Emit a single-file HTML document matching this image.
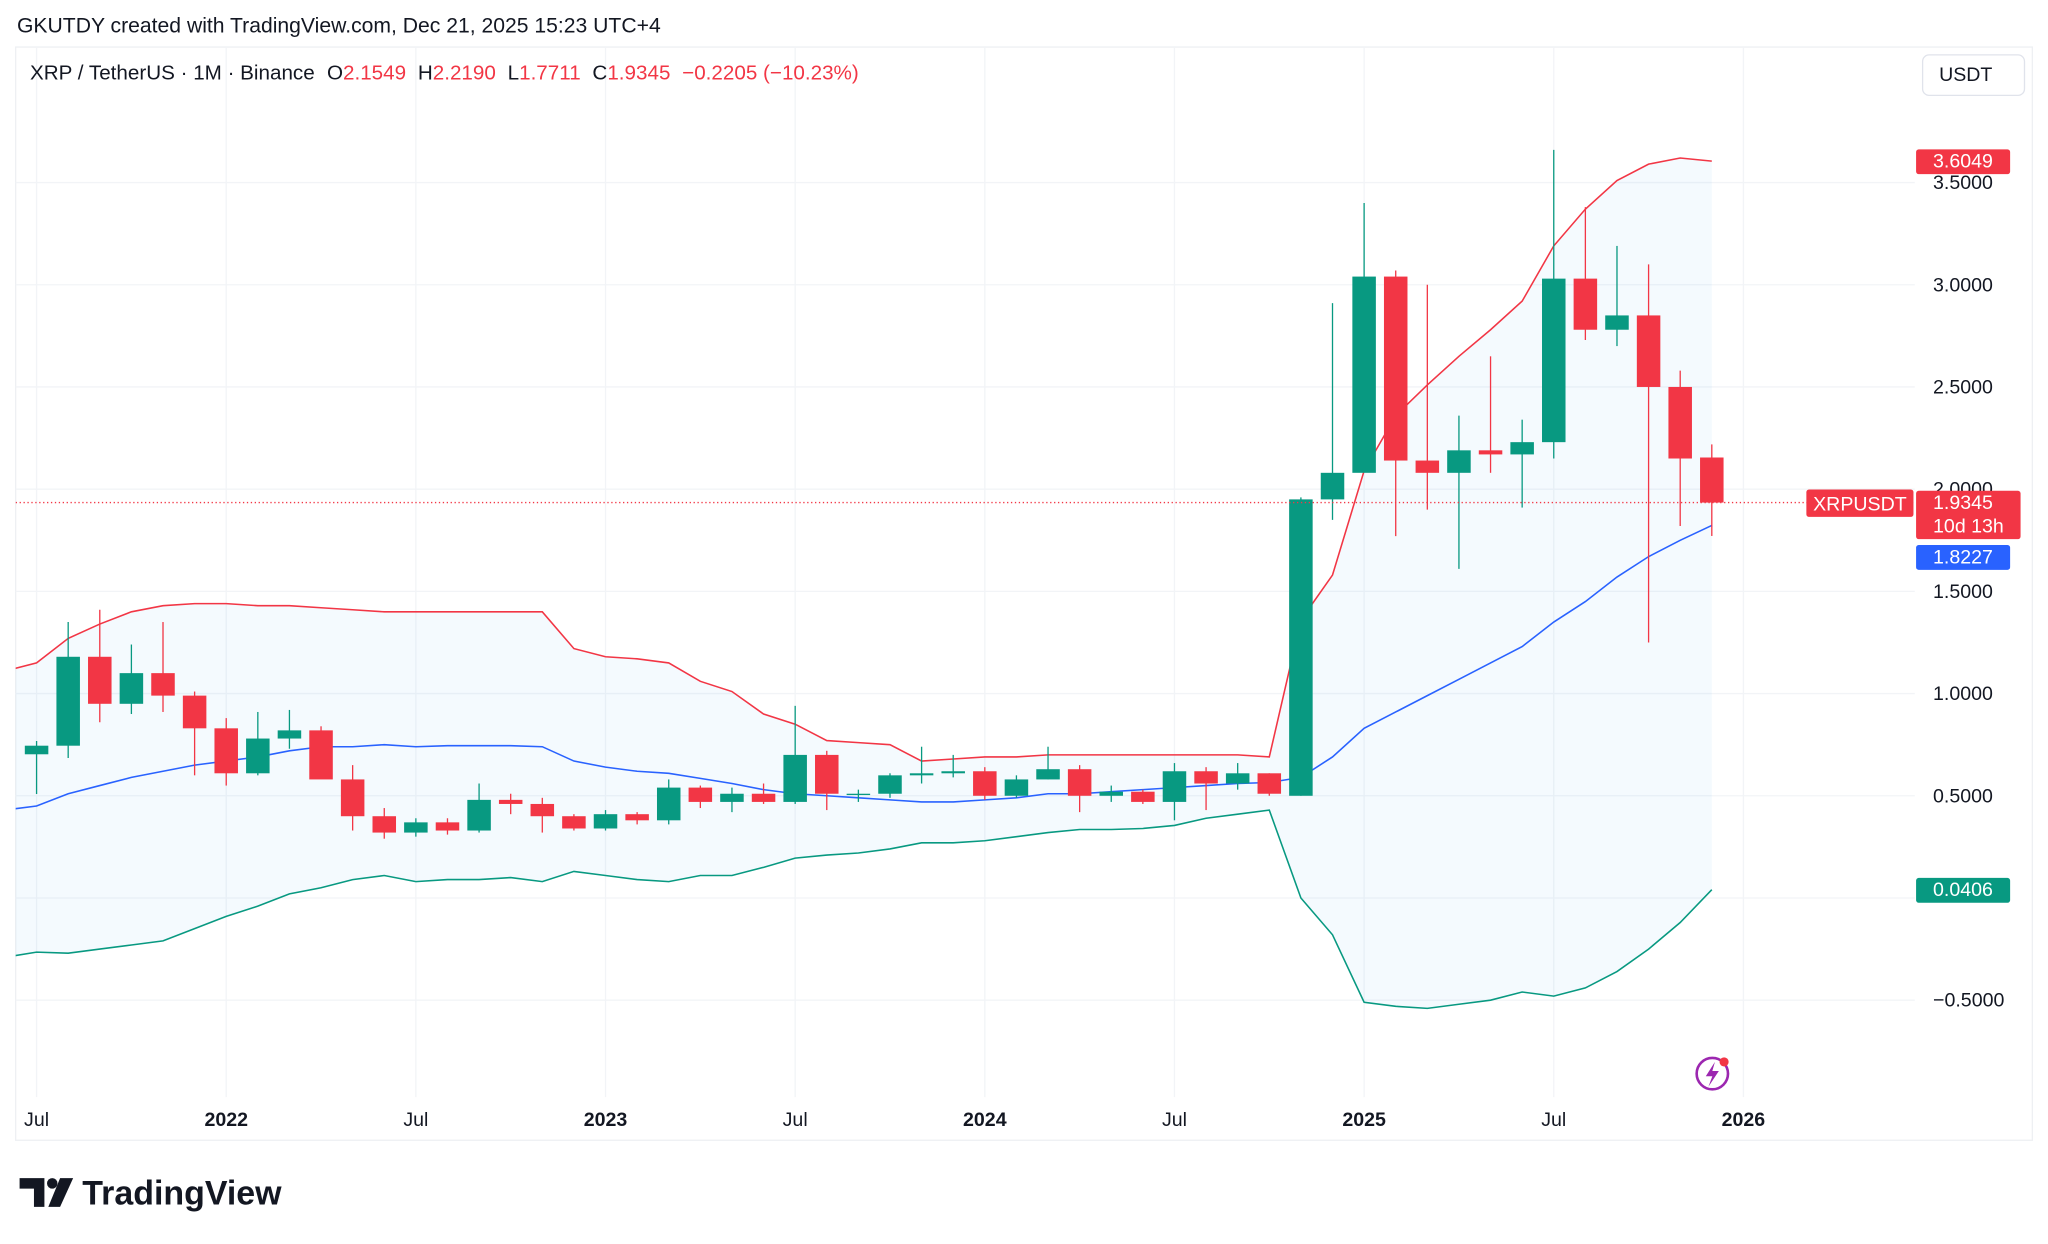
<!DOCTYPE html>
<html><head><meta charset="utf-8"><style>
html,body{margin:0;padding:0;background:#fff;}
svg{display:block;font-family:"Liberation Sans",sans-serif;}
</style></head><body>
<svg id="chart" width="2048" height="1244" viewBox="0 0 1568 952.4" xmlns="http://www.w3.org/2000/svg">
<text x="13" y="25" font-size="16.2" fill="#131722">GKUTDY created with TradingView.com, Dec 21, 2025 15:23 UTC+4</text>
<rect x="12" y="36" width="1544" height="837" fill="#fff" stroke="#eef0f3"/>
<g id="grid"></g>
<g id="plot"></g>
<g id="axes"></g>
<text x="23" y="61" font-size="15.8" fill="#131722">XRP / TetherUS · 1M · Binance <tspan dx="5">O</tspan><tspan fill="#f23645">2.1549</tspan><tspan dx="9">H</tspan><tspan fill="#f23645">2.2190</tspan><tspan dx="9">L</tspan><tspan fill="#f23645">1.7711</tspan><tspan dx="9">C</tspan><tspan fill="#f23645">1.9345</tspan><tspan dx="9" fill="#f23645">−0.2205 (−10.23%)</tspan></text>
<g><rect x="1472" y="42" width="78" height="31" rx="5" fill="#fff" stroke="#e0e3eb"/><text x="1505" y="62" font-size="15" text-anchor="middle" fill="#131722">USDT</text></g>
<g><circle cx="1311" cy="822" r="12" fill="none" stroke="#9c27b0" stroke-width="2"/><path d="M1313 813 L1306 824 L1311 824 L1308 832 L1316 820 L1311 820 Z" fill="#9c27b0"/><circle cx="1320" cy="813" r="3.5" fill="#f23645"/></g>
<g><path d="M15 902 H34 V924 H26 V910 H15 Z" fill="#131722"/><circle cx="40" cy="906" r="4" fill="#131722"/><path d="M46 902 H56 L46 924 H37 Z" fill="#131722"/><text x="63" y="922" font-size="26" font-weight="bold" fill="#131722">TradingView</text></g>
</svg>
<script>
const months = ["Jun21","Jul21","Aug21","Sep21","Oct21","Nov21","Dec21","Jan22","Feb22","Mar22","Apr22","May22","Jun22","Jul22","Aug22","Sep22","Oct22","Nov22","Dec22","Jan23","Feb23","Mar23","Apr23","May23","Jun23","Jul23","Aug23","Sep23","Oct23","Nov23","Dec23","Jan24","Feb24","Mar24","Apr24","May24","Jun24","Jul24","Aug24","Sep24","Oct24","Nov24","Dec24","Jan25","Feb25","Mar25","Apr25","May25","Jun25","Jul25","Aug25","Sep25","Oct25","Nov25","Dec25"];
const opens  = [null,.703,.745,1.18,.95,1.10,.99,.83,.61,.78,.82,.58,.40,.32,.37,.33,.48,.46,.40,.34,.41,.38,.54,.47,.51,.47,.70,.51,.51,.60,.61,.62,.50,.58,.63,.50,.52,.47,.62,.56,.61,.50,1.95,2.08,3.04,2.14,2.08,2.19,2.17,2.23,3.03,2.78,2.85,2.50,2.1549];
const highs  = [null,.768,1.35,1.41,1.24,1.35,1.01,.88,.91,.92,.84,.65,.44,.39,.39,.56,.51,.49,.41,.43,.42,.58,.55,.54,.56,.94,.72,.53,.61,.74,.70,.64,.60,.74,.65,.55,.53,.66,.64,.66,.61,1.96,2.91,3.40,3.07,3.00,2.36,2.65,2.34,3.66,3.38,3.19,3.10,2.58,2.219];
const lows   = [null,.509,.685,.86,.90,.91,.60,.55,.60,.73,.59,.33,.29,.30,.31,.32,.41,.32,.33,.33,.36,.36,.44,.42,.46,.46,.43,.47,.49,.56,.59,.48,.49,.58,.42,.47,.46,.38,.43,.53,.50,.50,1.85,2.09,1.77,1.90,1.61,2.08,1.91,2.15,2.73,2.70,1.25,1.82,1.7711];
const closes = [null,.745,1.18,.95,1.10,.99,.83,.61,.78,.82,.58,.40,.32,.37,.33,.48,.46,.40,.34,.41,.38,.54,.47,.51,.47,.70,.51,.51,.60,.61,.62,.50,.58,.63,.50,.52,.47,.62,.56,.61,.51,1.95,2.08,3.04,2.14,2.08,2.19,2.17,2.23,3.03,2.78,2.85,2.50,2.15,1.9345];
const upperBand = [1.11,1.15,1.27,1.34,1.40,1.43,1.44,1.44,1.43,1.43,1.42,1.41,1.40,1.40,1.40,1.40,1.40,1.40,1.22,1.18,1.17,1.15,1.06,1.01,.90,.85,.77,.76,.75,.67,.68,.69,.69,.70,.70,.70,.70,.70,.70,.70,.69,1.36,1.58,2.09,2.36,2.51,2.65,2.78,2.92,3.19,3.37,3.51,3.59,3.62,3.6049];
const midBand = [.43,.45,.51,.55,.59,.62,.65,.67,.69,.72,.74,.74,.75,.74,.745,.745,.745,.74,.67,.64,.62,.61,.585,.56,.53,.51,.50,.49,.48,.47,.47,.48,.49,.51,.51,.52,.53,.54,.55,.56,.565,.59,.69,.83,.91,.99,1.07,1.15,1.23,1.35,1.45,1.57,1.67,1.75,1.8227];
const lowerBand = [-.29,-.265,-.27,-.25,-.23,-.21,-.15,-.09,-.04,.02,.05,.09,.11,.08,.09,.09,.10,.08,.13,.11,.09,.08,.11,.11,.15,.195,.21,.22,.24,.27,.27,.28,.30,.32,.335,.335,.34,.355,.39,.41,.43,0.0,-.18,-.51,-.53,-.54,-.52,-.50,-.46,-.48,-.44,-.36,-.25,-.12,.0406];
const priceTicks = [3.5,3.0,2.5,2.0,1.5,1.0,0.5,-0.5];
const timeTickIdx = [1,7,13,19,25,31,37,43,49,55];
const timeTickLabels = ["Jul","2022","Jul","2023","Jul","2024","Jul","2025","Jul","2026"];

const NS="http://www.w3.org/2000/svg";
const X0=12, X1=1466, Y0=36, Y1=840;
const x = i => 28 + (i-1)*24.2;
const y = p => 687.5 - p*156.5;
function mk(tag, attrs, parent){const e=document.createElementNS(NS,tag);for(const k in attrs)e.setAttribute(k,attrs[k]);parent.appendChild(e);return e;}
const grid=document.getElementById('grid'), plot=document.getElementById('plot'), axes=document.getElementById('axes');

const defs=mk('defs',{},document.getElementById('chart'));
const cp=mk('clipPath',{id:'clip'},defs); mk('rect',{x:X0,y:Y0,width:X1-X0,height:Y1-Y0},cp);
plot.setAttribute('clip-path','url(#clip)');

priceTicks.forEach(p=>{
  const l=mk('line',{x1:X0,x2:X1,y1:y(p),y2:y(p),stroke:'#f2f4f7'},grid);
  
  
  const t=mk('text',{x:1480,y:y(p)+5,'font-size':15,fill:'#131722'},axes);
  t.textContent=p<0?'−'+Math.abs(p).toFixed(4):p.toFixed(4);
  
  
});
mk('line',{x1:X0,x2:X1,y1:y(0),y2:y(0),stroke:'#f2f4f7'},grid);
timeTickIdx.forEach((i,k)=>{
  const l=mk('line',{x1:x(i),x2:x(i),y1:Y0,y2:Y1,stroke:'#f2f4f7'},grid);
  
  
  const lab=timeTickLabels[k];
  const t=mk('text',{x:x(i),y:862,'font-size':15,'text-anchor':'middle',fill:'#131722','font-weight':lab==='Jul'?'normal':'bold'},axes);
  t.textContent=lab;
  
  
});

let d='';
upperBand.forEach((v,i)=>{d+=(i?'L':'M')+x(i)+' '+y(v);});
for(let i=lowerBand.length-1;i>=0;i--) d+='L'+x(i)+' '+y(lowerBand[i]);
const fill=mk('path',{d:d+'Z',fill:'#2196f3','fill-opacity':0.05},plot);


function line(arr,color,name){
  const pth=mk('path',{d:arr.map((v,i)=>(i?'L':'M')+x(i)+' '+y(v)).join(''),fill:'none',stroke:color,'stroke-width':1.2},plot);
  
  
}
line(upperBand,'#f23645','upper-band');
line(midBand,'#2962ff','middle-band');
line(lowerBand,'#089981','lower-band');

for(let i=0;i<months.length;i++){
  if(opens[i]==null) continue;
  const up=closes[i]>=opens[i], c=up?'#089981':'#f23645';
  const g=mk('g',{},plot);
  
  
  mk('line',{x1:x(i),x2:x(i),y1:y(highs[i]),y2:y(lows[i]),stroke:c,'stroke-width':1},g);
  const top=y(Math.max(opens[i],closes[i])), bot=y(Math.min(opens[i],closes[i]));
  mk('rect',{x:x(i)-9,y:top,width:18,height:Math.max(1,bot-top),fill:c},g);
}
const lp=mk('line',{x1:X0,x2:X1,y1:y(closes[closes.length-1]),y2:y(closes[closes.length-1]),stroke:'#f23645','stroke-dasharray':'1 2'},plot);



function tag(val,yy,color,h,name,extra){
  const g=mk('g',{},axes);
  
  
  mk('rect',{x:1467,y:yy-9,width:extra?80:72,height:h,rx:2,fill:color},g);
  const t=mk('text',{x:1480,y:yy+5,'font-size':15,fill:'#fff'},g); t.textContent=val;
  if(extra){const t2=mk('text',{x:1480,y:yy+23,'font-size':15,fill:'#fff'},g);t2.textContent=extra;}
}
tag(upperBand[upperBand.length-1].toFixed(4),y(upperBand[upperBand.length-1]),'#f23645',19,'upper-band-label');
tag(lowerBand[lowerBand.length-1].toFixed(4),y(lowerBand[lowerBand.length-1]),'#089981',19,'lower-band-label');
tag(midBand[midBand.length-1].toFixed(4),y(midBand[midBand.length-1])+24,'#2962ff',19,'middle-band-label');
tag(closes[closes.length-1].toFixed(4),y(closes[closes.length-1]),'#f23645',37,'last-price-label','10d 13h');
const sg=mk('g',{},axes);


mk('rect',{x:1383,y:y(closes[closes.length-1])-10,width:82,height:21,rx:2,fill:'#f23645'},sg);
const st=mk('text',{x:1424,y:y(closes[closes.length-1])+6,'font-size':15,fill:'#fff','text-anchor':'middle'},sg); st.textContent='XRPUSDT';
</script>
</body></html>
